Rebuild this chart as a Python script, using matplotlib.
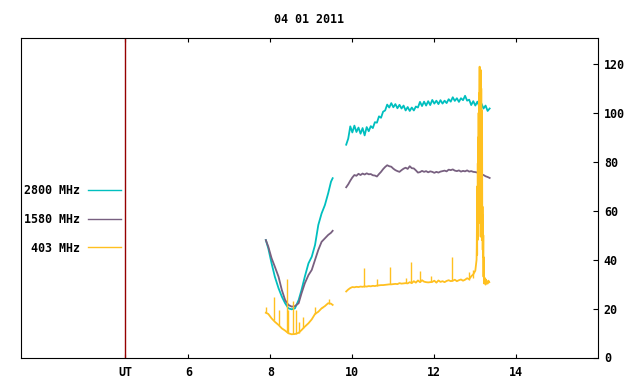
import numpy as np
import matplotlib
matplotlib.use('Agg')
import matplotlib.pyplot as plt
from matplotlib.lines import Line2D

# --- data (UT hours, flux) ---
labels = ['2800 MHz', '1580 MHz', '403 MHz']
colors = ['#00bfbf', '#786080', '#ffc020']

# morning segment
t1 = [7.89, 7.95, 8.03, 8.11, 8.20, 8.28, 8.36, 8.44, 8.52, 8.60, 8.69,
      8.76, 8.84, 8.93, 9.01, 9.09, 9.17, 9.25, 9.33, 9.41, 9.48, 9.52]
f2800_1 = [48.0, 44.6, 38.5, 33.0, 28.3, 24.9, 22.2, 20.1, 19.7, 20.1, 23.5,
           27.6, 33.0, 38.5, 41.2, 46.0, 54.2, 58.9, 62.3, 67.1, 71.9, 73.3]
f1580_1 = [48.0, 45.3, 40.6, 37.1, 33.0, 27.6, 23.5, 21.5, 20.8, 21.0, 22.2,
           26.2, 30.3, 33.7, 35.8, 39.9, 44.0, 47.3, 48.7, 50.1, 51.0, 51.8]
f403_1 = [18.3, 17.8, 16.0, 14.6, 13.3, 11.9, 11.0, 9.9, 9.5, 9.6, 10.1,
          11.2, 12.6, 14.0, 15.6, 17.8, 18.7, 20.1, 21.0, 22.2, 22.0, 21.5]

# 403 MHz spikes in the morning segment: time, base, top
spk1_t = [7.90, 8.08, 8.22, 8.40, 8.42, 8.56, 8.62, 8.70, 8.80, 9.09, 9.25, 9.44]
spk1_lo = [18.3, 15.5, 13.1, 10.5, 10.2, 9.5, 9.6, 10.1, 11.9, 17.8, 20.1, 22.0]
spk1_hi = [20.5, 24.6, 19.4, 32.1, 19.4, 23.1, 19.4, 14.6, 16.7, 20.8, 20.8, 23.8]

# afternoon segment, sampled every 0.05 h
t2 = np.round(np.arange(9.85, 13.351, 0.05), 2)
f2800_2 = [87.0, 89.5, 94.5, 92.0, 94.8, 92.2, 94.0, 91.5, 93.8, 90.8,
           94.2, 92.5, 94.6, 93.8, 96.2, 96.0, 98.6, 98.0, 100.5, 101.0,
           103.4, 102.2, 104.0, 102.3, 103.6, 101.9, 103.3, 101.8, 103.0, 101.0,
           102.4, 100.8, 102.2, 101.0, 102.6, 102.2, 104.5, 102.8, 104.6, 103.0,
           104.8, 103.2, 105.3, 103.8, 105.0, 103.6, 105.2, 103.8, 105.0, 104.0,
           105.6, 104.6, 106.4, 104.9, 106.0, 104.5, 106.0, 105.2, 107.0, 105.0,
           105.4, 103.2, 104.8, 103.0, 104.6, 102.5, 103.8, 101.8, 103.0, 100.8,
           101.8]
f1580_2 = [69.6, 70.8, 72.3, 73.6, 74.6, 74.3, 75.1, 74.6, 75.2, 74.8,
           75.3, 74.9, 75.0, 74.5, 74.4, 74.0, 75.0, 75.9, 77.0, 77.9,
           78.6, 78.2, 78.0, 77.2, 76.6, 76.2, 75.9, 76.6, 77.2, 77.6,
           77.1, 78.2, 77.4, 77.3, 76.5, 75.6, 75.8, 76.3, 75.9, 76.2,
           75.7, 76.1, 75.9, 75.5, 75.9, 75.6, 76.0, 76.2, 76.4, 76.1,
           76.8, 76.6, 76.9, 76.4, 76.2, 76.5, 76.0, 76.3, 76.1, 76.5,
           76.0, 76.2, 75.9, 75.8, 75.6, 75.2, 74.9, 74.6, 74.1, 73.8,
           73.4]
f403_2 = [27.0, 27.8, 28.4, 28.8, 28.7, 28.9, 28.8, 29.0, 28.9, 29.1,
          29.0, 29.2, 29.1, 29.3, 29.2, 29.4, 29.5, 29.6, 29.6, 29.7,
          29.8, 29.9, 29.9, 30.0, 30.1, 30.0, 30.4, 30.2, 30.3, 30.4,
          30.3, 30.8, 30.4, 31.2, 30.6, 31.5, 30.8, 31.6, 31.0, 30.8,
          30.7, 30.8, 30.9, 31.4, 30.6, 31.5, 30.9, 31.2, 30.8, 31.3,
          31.6, 31.2, 31.4, 31.8, 31.2, 31.6, 31.9, 31.4, 31.8, 32.4,
          32.0, 33.2, 34.0, 35.5]
# 403 MHz burst near 13 UT
burst_t = [13.030, 13.035, 13.040, 13.045, 13.050, 13.055, 13.060, 13.065,
           13.070, 13.075, 13.080, 13.085, 13.090, 13.095, 13.100, 13.105,
           13.110, 13.115, 13.120, 13.125, 13.130, 13.135, 13.140, 13.145,
           13.150, 13.155, 13.160, 13.165, 13.170, 13.175, 13.180, 13.185,
           13.190, 13.195, 13.200, 13.205, 13.210, 13.220, 13.240, 13.250,
           13.260, 13.280, 13.300, 13.320, 13.340]
burst_f = [39.9, 45.0, 56.0, 42.0, 70.0, 48.0, 79.4, 52.0,
           90.0, 55.0, 100.0, 60.0, 108.0, 58.0, 101.2, 118.9,
           62.0, 116.0, 55.0, 105.0, 49.4, 117.5, 60.0, 110.0,
           52.0, 101.2, 48.0, 95.0, 50.0, 61.7, 44.0, 58.0,
           41.2, 50.0, 33.0, 41.0, 30.3, 32.0, 32.4, 29.8,
           31.8, 31.0, 30.2, 31.4, 30.8]
spk2_t = [10.29, 10.60, 10.93, 11.31, 11.42, 11.64, 11.92, 12.44, 12.85, 12.94]
spk2_lo = [29.0, 29.4, 29.9, 30.3, 30.6, 30.8, 30.8, 31.2, 31.8, 32.5]
spk2_hi = [36.5, 31.9, 37.1, 32.4, 39.2, 35.4, 33.3, 41.2, 34.8, 35.8]

xticks = [4.46, 6, 8, 10, 12, 14]
xticklabels = ['UT', '6', '8', '10', '12', '14']
yticks = [0, 20, 40, 60, 80, 100, 120]

plt.rcParams['font.family'] = 'DejaVu Sans Mono'
plt.rcParams['font.weight'] = 'bold'
plt.rcParams['font.size'] = 8.4

fig = plt.figure(figsize=(6.4, 3.84), dpi=100)
ax = fig.add_axes([20.7 / 640, 1 - 357.5 / 384, 577.6 / 640, 319.2 / 384])

lw = 1.3
ax.plot(t1, f2800_1, color=colors[0], lw=lw)
ax.plot(t1, f1580_1, color=colors[1], lw=lw)
ax.plot(t1, f403_1, color=colors[2], lw=lw)
ax.vlines(spk1_t, spk1_lo, spk1_hi, color=colors[2], lw=1.0)

ax.plot(t2, f1580_2, color=colors[1], lw=lw)
ax.plot(t2, f2800_2, color=colors[0], lw=lw)
t403 = np.concatenate([t2[:len(f403_2)], burst_t])
f403 = np.concatenate([f403_2, burst_f])
ax.plot(t403, f403, color=colors[2], lw=lw)
ax.vlines(spk2_t, spk2_lo, spk2_hi, color=colors[2], lw=1.0)

ax.axvline(4.46, color='#960000', lw=1.0)

ax.set_xlim(1.91, 16.0)
ax.set_ylim(0, 130.5)
ax.set_xticks(xticks)
ax.set_xticklabels(xticklabels)
ax.set_yticks(yticks)
ax.tick_params(axis='x', direction='in', length=3.2, width=0.8, top=True,
               bottom=True, pad=6)
ax.tick_params(axis='y', direction='in', length=3.8, width=0.8, left=False,
               right=True, labelleft=False, labelright=True, pad=4)
for s in ax.spines.values():
    s.set_linewidth(0.8)
ax.set_title('04 01 2011', pad=11, fontsize=8.4, fontweight='bold')

handles = [Line2D([], [], color=c, lw=1.0) for c in colors]
ax.legend(handles, labels, loc='center right', bbox_to_anchor=(0.173, 0.433),
          markerfirst=False, frameon=False, handlelength=2.77,
          handletextpad=0.68, labelspacing=1.35, borderpad=0, borderaxespad=0)

fig.savefig('out.png', dpi=100)
